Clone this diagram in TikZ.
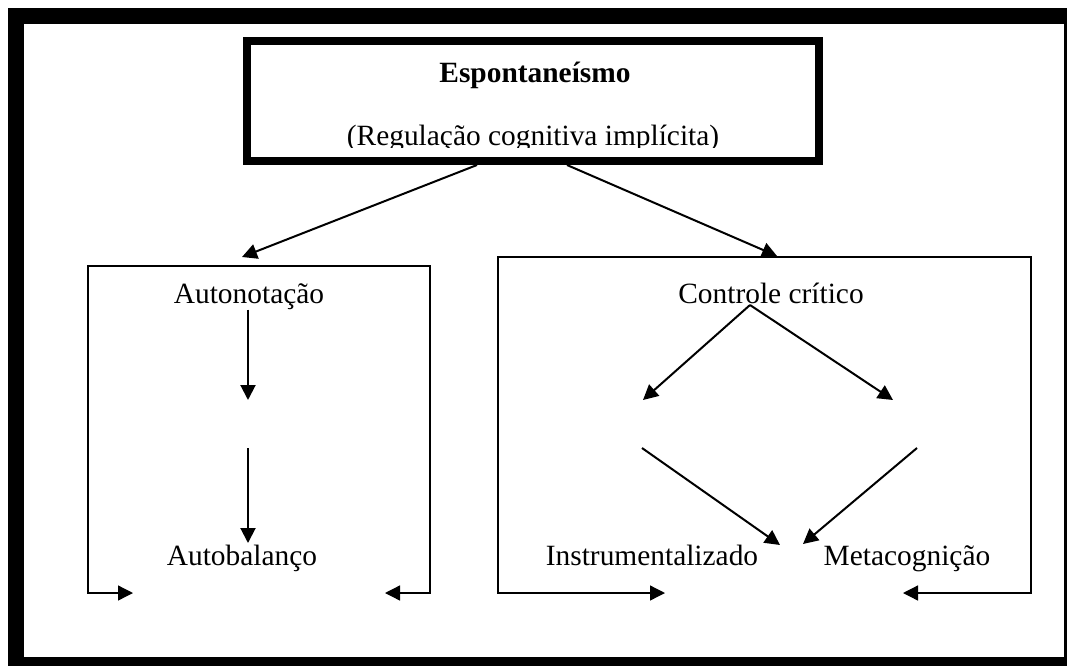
\documentclass[tikz,border=0pt]{standalone}
\usepackage{fontspec}
\setmainfont{Liberation Serif}
\usepackage{tikz}
\usetikzlibrary{arrows.meta}
\tikzset{>={Triangle[width=7.5pt,length=7.5pt]}}
\tikzset{
  txt/.style={anchor=base, inner sep=0pt, font=\fontsize{14.7}{17}\selectfont},
  link/.style={->, line width=1pt},
  boxline/.style={<->, line width=0.65pt, line join=miter},
}

\begin{document}
\begin{tikzpicture}[x=0.5pt, y=-0.5pt]

  \useasboundingbox (0,0) rectangle (1067,665);
  \clip (0,0) rectangle (1067,665);

  %% page frame
  \draw[line width=8pt] (16,16) rectangle (1072,665);

  %% top box
  \node[draw, line width=4pt, minimum width=286pt, minimum height=60pt,
        inner sep=0pt] (espont) at (533,101) {};
  \node[txt, font=\fontsize{14.7}{17}\selectfont\bfseries] (esptit) at (535,82)
  {Espontaneísmo};
  \begin{scope}
    \clip (253,45) rectangle (813,147);
    \node[txt] (espsub) at (533,145) {(Regulação cognitiva implícita)};
  \end{scope}

  \coordinate (espL) at (477,165);
  \coordinate (espR) at (567,165);
  \coordinate (autoTip) at (242,257);
  \coordinate (critTip) at (777,256);
  \draw[link] (espL) -- (autoTip);
  \draw[link] (espR) -- (critTip);

  %% left box
  \coordinate (ltl) at (88,266);
  \coordinate (ltr) at (430,266);
  \coordinate (lbl) at (88,593);
  \coordinate (lbr) at (430,593);
  \coordinate (lendL) at (133,593);
  \coordinate (lendR) at (385,593);
  \draw[boxline] (lendL) -- (lbl) -- (ltl) -- (ltr) -- (lbr) -- (lendR);

  \node[txt] (autonot) at (249,303) {Autonotação};
  \node[txt] (autobal) at (242,565) {Autobalanço};
  \coordinate (midA) at (248,400);
  \coordinate (midB) at (248,448);
  \draw[link] (autonot.south -| midA) -- (midA);
  \draw[link] (midB) -- (midB |- 0,543);

  %% right box
  \coordinate (rtl) at (498,257);
  \coordinate (rtr) at (1031,257);
  \coordinate (rbl) at (498,593);
  \coordinate (rbr) at (1031,593);
  \coordinate (rendL) at (665,593);
  \coordinate (rendR) at (903,593);
  \draw[boxline] (rendL) -- (rbl) -- (rtl) -- (rtr) -- (rbr) -- (rendR);

  \node[txt] (critico) at (771,303) {Controle crítico};
  \node[txt] (instr) at (652,565) {Instrumentalizado};
  \node[txt] (meta) at (907,565) {Metacognição};

  \coordinate (critFoot) at (750,305);
  \coordinate (leftTip) at (643,400);
  \coordinate (rightTip) at (893,400);
  \coordinate (leftTail) at (642,448);
  \coordinate (rightTail) at (917,448);
  \coordinate (instrTip) at (780,545);
  \coordinate (metaTip) at (803,544);
  \draw[link] (critFoot) -- (leftTip);
  \draw[link] (critFoot) -- (rightTip);
  \draw[link] (leftTail) -- (instrTip);
  \draw[link] (rightTail) -- (metaTip);

\end{tikzpicture}
\end{document}
